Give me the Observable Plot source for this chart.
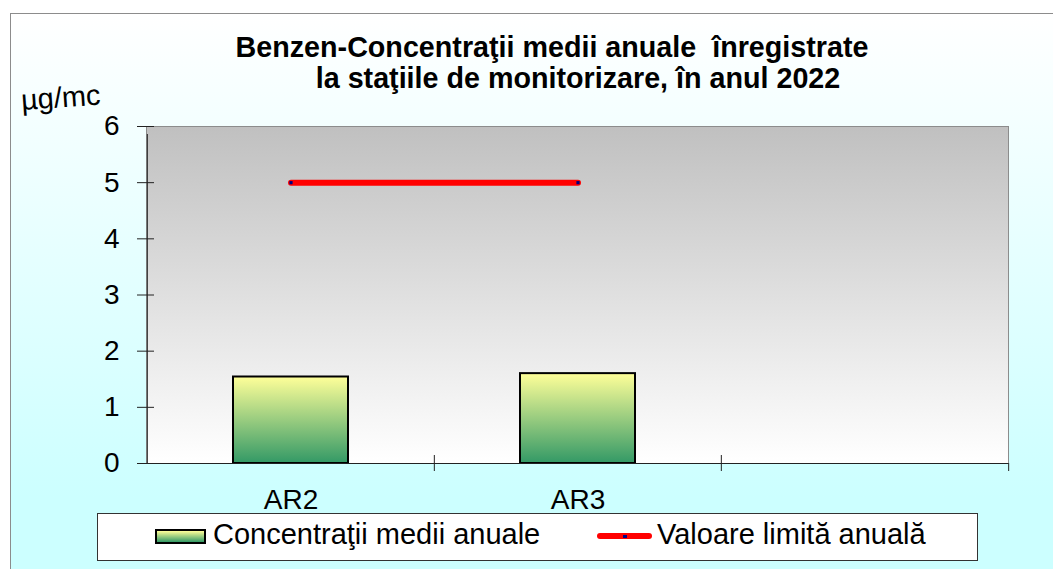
<!DOCTYPE html>
<html>
<head>
<meta charset="utf-8">
<script src="https://cdn.jsdelivr.net/npm/d3@7"></script>
<script src="https://cdn.jsdelivr.net/npm/@observablehq/plot@0.6"></script>
<style>
  html, body { margin: 0; padding: 0; background: #fff; }
  #page { position: relative; width: 1053px; height: 569px; overflow: hidden; background: #fff;
          font-family: "Liberation Sans", Arial, sans-serif; color: #000; }
  #chartArea { position: absolute; left: 10px; top: 13px; width: 1100px; height: 620px;
               border-left: 1px solid #8c8c8c; border-top: 1px solid #8c8c8c;
               background: linear-gradient(to bottom, #ffffff 0%, #ccffff 78%, #ccffff 100%); }
  .title { position: absolute; font-weight: bold; font-size: 28.7px; line-height: 29px;
           white-space: pre; transform: translateX(-50%); }
  #unit { position: absolute; left: 22px; top: 86px; font-size: 29px; line-height: 29px;
          transform: rotate(-4deg); transform-origin: left bottom; }
  #plot { position: absolute; left: 0; top: 0; }
  #legend { position: absolute; left: 97px; top: 513px; width: 881px; height: 48px; box-sizing: border-box;
            background: #fff; border: 1px solid #333; }
  .ltext { position: absolute; font-size: 29px; line-height: 29px; white-space: pre; }
  #swBar { position: absolute; left: 57px; top: 15px; width: 51px; height: 15px; box-sizing: border-box;
           border: 2px solid #000; background: linear-gradient(to bottom, #ffff99, #339966); }
  #swLine { position: absolute; left: 499px; top: 19px; width: 55px; height: 6px; border-radius: 3px; background: #ff0000; }
  #swMark { position: absolute; left: 525px; top: 20.5px; width: 4px; height: 3px; background: #000080; }
</style>
</head>
<body>
<svg width="0" height="0" style="position:absolute">
  <defs>
    <linearGradient id="plotAreaGrad" x1="0" y1="0" x2="0" y2="1">
      <stop offset="0" stop-color="#c0c0c0"/>
      <stop offset="1" stop-color="#ffffff"/>
    </linearGradient>
    <linearGradient id="barGrad" x1="0" y1="0" x2="0" y2="1">
      <stop offset="0" stop-color="#ffff99"/>
      <stop offset="1" stop-color="#339966"/>
    </linearGradient>
  </defs>
</svg>
<div id="page">
  <div id="chartArea"></div>
  <div class="title" style="left:552px; top:33px;">Benzen-Concentraţii medii anuale  înregistrate</div>
  <div class="title" style="left:578px; top:64px;">la staţiile de monitorizare, în anul 2022</div>
  <div id="unit">µg/mc</div>
  <div id="plot"></div>
  <div id="legend">
    <div id="swBar"></div>
    <div class="ltext" style="left:115px; top:6px;">Concentraţii medii anuale</div>
    <div id="swLine"></div>
    <div id="swMark"></div>
    <div class="ltext" style="left:559px; top:6px;">Valoare limită anuală</div>
  </div>
</div>
<script>
// ---- data ----
const stations = ["AR2", "AR3", ""];
const concentrations = [1.54, 1.6];
const limitStations = ["AR2", "AR3"];
const limitValues = [5, 5];
const yTicks = [0, 1, 2, 3, 4, 5, 6];

const barData = concentrations.map((v, i) => ({station: stations[i], value: v}));
const limitData = limitValues.map((v, i) => ({station: limitStations[i], value: v}));

const W = 1053, H = 569, ML = 146, MR = 45, MT = 126, MB = 106;
const step = (W - ML - MR) / stations.length;
const axisColor = "#222";

const chart = Plot.plot({
  width: W, height: H,
  marginLeft: ML, marginRight: MR, marginTop: MT, marginBottom: MB,
  style: {background: "transparent", fontFamily: "'Liberation Sans', Arial, sans-serif", color: "#000", overflow: "visible"},
  x: {type: "band", domain: stations, paddingInner: 0.6, paddingOuter: 0.3, label: null},
  y: {domain: [0, 6], label: null},
  marks: [
    Plot.frame({fill: "url(#plotAreaGrad)", stroke: "#8c8c8c"}),
    Plot.barY(barData, {x: "station", y: "value", fill: "url(#barGrad)", stroke: "#000", strokeWidth: 2}),
    Plot.ruleY([0], {stroke: axisColor}),
    Plot.ruleX([stations[0]], {x: d => d, y1: 0, y2: 6, insetBottom: -8, dx: -step / 2, stroke: axisColor}),
    Plot.ruleX(stations.slice(1), {x: d => d, y1: 0, y2: 0, insetTop: -8, insetBottom: -8, dx: -step / 2, stroke: axisColor}),
    Plot.ruleX([stations[stations.length - 1]], {x: d => d, y1: 0, y2: 0, insetBottom: -8, dx: step / 2, stroke: axisColor}),
    Plot.axisY(yTicks, {tickSize: 17, tickPadding: 18, dx: 8, fontSize: 28, stroke: axisColor, tickFormat: d3.format("d"), label: null}),
    Plot.axisX({tickSize: 0, tickPadding: 26, fontSize: 28, label: null}),
    Plot.line(limitData, {x: "station", y: "value", stroke: "#ff0000", strokeWidth: 6, strokeLinecap: "round"}),
    Plot.dot(limitData, {x: "station", y: "value", symbol: "square", r: 1.8, fill: "#000080", stroke: null})
  ]
});
document.getElementById("plot").appendChild(chart);
</script>
</body>
</html>
